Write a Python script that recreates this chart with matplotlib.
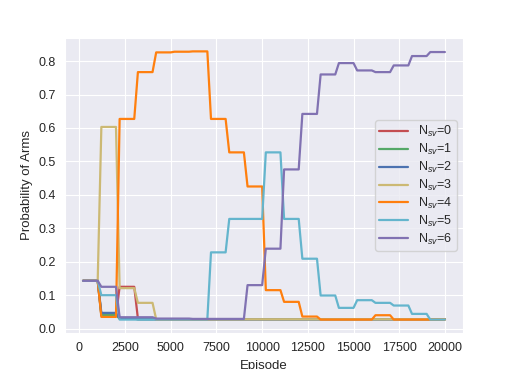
import numpy as np
import matplotlib
matplotlib.use("Agg")
import matplotlib.pyplot as plt
import seaborn as sns

# Each block of 1000 episodes is logged from start+200 to start+1000
block_start = np.arange(0, 20000, 1000)

# Probability of each arm per block
p_red = [0.143, 0.040, 0.125, 0.030, 0.028, 0.028, 0.028, 0.028, 0.028, 0.028,
         0.028, 0.028, 0.028, 0.028, 0.028, 0.028, 0.028, 0.028, 0.028, 0.028]
p_green = [0.143, 0.040, 0.030, 0.028, 0.028, 0.028, 0.028, 0.028, 0.028, 0.028,
           0.028, 0.028, 0.028, 0.028, 0.028, 0.028, 0.028, 0.028, 0.028, 0.028]
p_blue = [0.143, 0.047, 0.030, 0.028, 0.028, 0.028, 0.028, 0.028, 0.028, 0.028,
          0.028, 0.028, 0.028, 0.028, 0.028, 0.028, 0.028, 0.028, 0.028, 0.028]
p_yellow = [0.143, 0.603, 0.121, 0.077, 0.028, 0.028, 0.028, 0.028, 0.028, 0.028,
            0.028, 0.028, 0.028, 0.028, 0.028, 0.028, 0.028, 0.028, 0.028, 0.028]
p_orange = [0.143, 0.035, 0.627, 0.767, 0.826, 0.828, 0.829, 0.627, 0.527, 0.425,
            0.115, 0.080, 0.036, 0.027, 0.027, 0.027, 0.040, 0.027, 0.027, 0.027]
p_cyan = [0.143, 0.100, 0.027, 0.027, 0.028, 0.028, 0.028, 0.228, 0.328, 0.328,
          0.527, 0.328, 0.209, 0.099, 0.062, 0.085, 0.077, 0.069, 0.044, 0.027]
p_purple = [0.143, 0.125, 0.034, 0.034, 0.030, 0.030, 0.029, 0.029, 0.029, 0.130,
            0.239, 0.476, 0.642, 0.760, 0.794, 0.772, 0.767, 0.787, 0.815, 0.827]

series = [p_red, p_green, p_blue, p_yellow, p_orange, p_cyan, p_purple]
labels = ["N$_{sv}$=%d" % i for i in range(7)]
colors = ["#C44E52", "#55A868", "#4C72B0", "#CCB974", "#FF7F0E", "#64B5CD", "#8172B2"]

sns.set_style("darkgrid")
plt.rcParams['font.family'] = ['Liberation Sans', 'DejaVu Sans']
plt.rcParams['mathtext.fontset'] = 'custom'
plt.rcParams['mathtext.rm'] = 'Liberation Sans'
plt.rcParams['mathtext.it'] = 'Liberation Sans:italic'

# step corners: each block value held from start+200 to start+1000
x = np.column_stack([block_start + 200, block_start + 1000]).ravel()

fig = plt.figure(figsize=(5.15, 3.69), dpi=100)
ax = fig.add_axes([0.1262, 0.0976, 0.7728, 0.7995])
for vals, lab, c in zip(series, labels, colors):
    y = np.repeat(vals, 2)
    ax.plot(x, y, color=c, linewidth=1.6, label=lab)

ax.set_xticks(np.arange(0, 20001, 2500))
ax.set_yticks(np.arange(0, 0.81, 0.1))
ax.tick_params(labelsize=9, pad=3)
ax.set_xlabel("Episode", fontsize=9.5)
ax.set_ylabel("Probability of Arms", fontsize=9.5)
ax.legend(loc="center right", fontsize=9, labelspacing=0.22, handlelength=2.3,
          borderpad=0.35)

fig.savefig("out.png", dpi=100)
